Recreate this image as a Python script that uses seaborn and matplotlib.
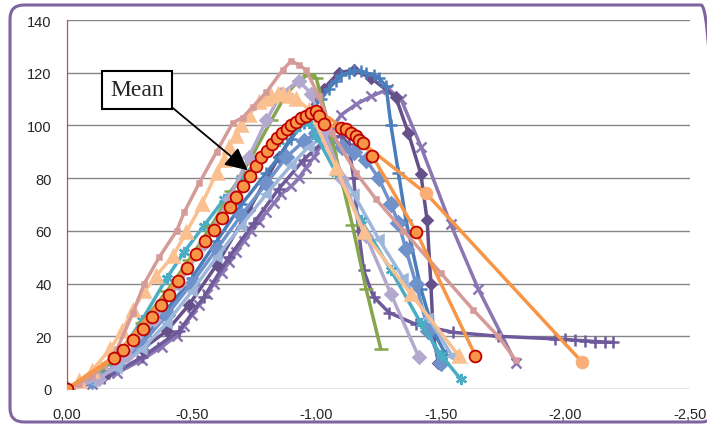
import matplotlib
matplotlib.use("Agg")
import matplotlib.pyplot as plt
import seaborn as sns
from matplotlib.patches import FancyBboxPatch

# displacement (x) vs load (y) curves
pink_x = [0, -0.05, -0.1, -0.15, -0.2, -0.265, -0.31, -0.37, -0.44, -0.47, -0.53, -0.6, -0.665, -0.705,
          -0.745, -0.8, -0.865, -0.9, -0.93, -0.96, -1.01, -1.065, -1.16, -1.24, -1.35, -1.5, -1.63,
          -1.73, -1.8]
pink_y = [0, 2, 5, 9, 15, 29, 40, 50, 60, 67, 78, 90, 101, 103,
          107, 112.6, 121, 124.5, 123, 121, 111, 97, 82, 72, 60, 44, 30,
          20, 11]

peach_x = [0, -0.05, -0.1, -0.172, -0.22, -0.265, -0.31, -0.359, -0.425, -0.479, -0.54, -0.6, -0.63,
           -0.65, -0.68, -0.7, -0.73, -0.772, -0.8, -0.82, -0.845, -0.865, -0.89, -0.92, -0.972,
           -1.08, -1.19, -1.38, -1.572]
peach_y = [0, 3, 7, 15, 22, 30, 37, 43, 50.5, 59.5, 70, 82, 87,
           92, 96, 100, 104, 109, 110, 111, 112, 112, 111, 110, 106,
           84, 59.5, 36, 12.6]

lav_x = [0, -0.13, -0.24, -0.35, -0.45, -0.55, -0.65, -0.73, -0.8, -0.86, -0.93, -0.98, -1.03,
         -1.105, -1.2, -1.3, -1.412]
lav_y = [0, 3.8, 12.6, 26, 40, 55, 72, 88, 102, 112, 117, 112, 98,
         79.7, 58, 36, 12]

green_x = [0, -0.1, -0.2, -0.3, -0.4, -0.49, -0.58, -0.66, -0.74, -0.82, -0.88, -0.93, -0.972,
           -1.0, -1.05, -1.1, -1.145, -1.2, -1.259]
green_y = [0, 4, 12, 25, 37, 49, 62, 75, 88, 102, 112, 117, 119.5,
           118, 100, 80, 62.2, 38, 15.2]

blue_x = [0, -0.1, -0.2, -0.3, -0.4, -0.5, -0.6, -0.7, -0.8, -0.85, -0.9, -0.95, -0.98, -1.02,
          -1.05, -1.08, -1.1, -1.13, -1.15, -1.18, -1.2, -1.23, -1.25, -1.28, -1.3, -1.33, -1.36,
          -1.42, -1.47, -1.52]
blue_y = [0, 3, 9, 18, 30, 42, 56, 70, 82, 88, 95, 101, 106, 110,
          114, 117, 119, 120, 121, 120.5, 120, 119, 118, 115, 100, 82, 64,
          38, 22, 13]

dpurple_x = [0, -0.15, -0.3, -0.4, -0.49, -0.6, -0.73, -0.85, -0.95, -1.03, -1.09, -1.15, -1.22,
             -1.32, -1.37, -1.42, -1.445, -1.46, -1.47, -1.49]
dpurple_y = [0, 5, 15, 22, 32, 47, 68, 88, 103, 114, 120, 121, 118,
             110.6, 97, 81.5, 64, 40, 20, 10]

tail_x = [0, -0.15, -0.3, -0.45, -0.55, -0.65, -0.75, -0.85, -0.95, -1.03, -1.1, -1.13, -1.15,
          -1.17, -1.19, -1.23, -1.292, -1.4, -1.55, -1.73, -1.96, -2.0, -2.04, -2.08, -2.12, -2.16, -2.19]
tail_y = [0, 4, 12, 22, 35, 50, 63, 76, 87, 94, 96, 93, 80,
          60, 45, 35, 29, 24.5, 21.5, 20, 19, 18.8, 18.5, 18.3, 18, 17.8, 17.7]

xpurple_x = [0, -0.1, -0.2, -0.3, -0.38, -0.44, -0.47, -0.5, -0.53, -0.56, -0.59, -0.62, -0.65,
             -0.68, -0.71, -0.74, -0.77, -0.8, -0.83, -0.86, -0.9, -0.93, -0.96, -0.99, -1.05,
             -1.1, -1.16, -1.22, -1.29, -1.34, -1.42, -1.539, -1.65, -1.8]
xpurple_y = [0, 2, 6, 11, 16, 20.2, 24, 28, 32, 36, 40, 44, 48,
             52, 56, 60, 63.5, 67, 70.5, 74, 77, 80, 84, 88, 97,
             104, 108, 111, 113.8, 110, 92, 62.6, 38, 10]

aqua_x = [0, -0.1, -0.2, -0.3, -0.4, -0.47, -0.55, -0.63, -0.7, -0.78, -0.85, -0.92, -0.972,
          -1.0, -1.08, -1.18, -1.3, -1.42, -1.5, -1.579]
aqua_y = [0, 4, 12, 26, 42, 52, 62, 72, 80, 88, 94, 99, 101,
          96, 82, 64, 45, 25, 13, 3.8]

lblue_x = [0, -0.1, -0.2, -0.3, -0.4, -0.5, -0.6, -0.7, -0.8, -0.9, -0.97, -1.02, -1.065,
           -1.15, -1.25, -1.35, -1.45, -1.545]
lblue_y = [0, 3, 8, 15, 25, 37, 50, 62, 74, 85, 92, 95, 88.5,
           74, 57, 42, 27, 12.6]

mblue_x = [0, -0.1, -0.2, -0.3, -0.4, -0.5, -0.6, -0.7, -0.8, -0.88, -0.95, -1.0, -1.05, -1.105,
           -1.15, -1.2, -1.25, -1.3, -1.33, -1.36, -1.4, -1.45, -1.5]
mblue_y = [0, 3, 9, 17, 28, 40, 53, 66, 78, 88, 94, 97, 95, 92,
           90, 87, 80, 70, 63, 53, 40, 22, 10]

orange_x = [0, -0.2, -0.4, -0.6, -0.8, -0.95, -1.05, -1.12, -1.19, -1.441, -2.065]
orange_y = [0, 13, 36, 62, 90, 103, 103, 98, 93, 74.2, 10.4]

mean_x = [0, -0.19, -0.225, -0.265, -0.305, -0.341, -0.377, -0.408, -0.444, -0.48, -0.516, -0.552,
          -0.589, -0.623, -0.652, -0.679, -0.705, -0.735, -0.759, -0.779, -0.803, -0.823, -0.843,
          -0.863, -0.881, -0.899, -0.919, -0.939, -0.959, -0.979, -0.999, -1.012, -1.032, -1.099,
          -1.119, -1.139, -1.159, -1.172, -1.188, -1.225, -1.401, -1.639]
mean_y = [0, 11.8, 14.8, 18.6, 22.8, 27.4, 31.9, 35.8, 40.8, 45.8, 51.2, 56,
          60.3, 64.7, 68.9, 72.7, 76.9, 80.9, 84.7, 87.9, 90.4, 92.9, 95.1,
          97, 98.6, 100.2, 101.4, 102.7, 103.7, 104.7, 105.3, 103.7, 100.5, 99.2,
          98.6, 97.3, 95.8, 94.6, 93.2, 88.5, 59.7, 12.6]

x_ticks = [0, -0.5, -1.0, -1.5, -2.0, -2.5]
x_tick_labels = ['0,00', '-0,50', '-1,00', '-1,50', '-2,00', '-2,50']
y_ticks = [0, 20, 40, 60, 80, 100, 120, 140]

sns.set_style("white")
plt.rcParams['font.family'] = ['Liberation Sans', 'DejaVu Sans']

fig = plt.figure(figsize=(7.07, 4.27), dpi=100)
ax = fig.add_axes([0.0948, 0.0867, 0.8812, 0.8641])

# (x, y, line colour, marker, marker size)
series = [
    (xpurple_x, xpurple_y, '#8A76B2', 'x', 7),
    (tail_x, tail_y, '#6E5A9A', '+', 9),
    (dpurple_x, dpurple_y, '#65508A', 'D', 5.5),
    (blue_x, blue_y, '#4A7EBB', '+', 9),
    (mblue_x, mblue_y, '#6F92CB', 'D', 7),
    (lblue_x, lblue_y, '#9DB6DA', '<', 6),
    (aqua_x, aqua_y, '#4BACC6', (6, 2, 0), 8),
    (green_x, green_y, '#86A64C', '_', 10),
    (lav_x, lav_y, '#B3A9CF', 'D', 6.5),
    (peach_x, peach_y, '#FAC08F', '^', 8),
    (pink_x, pink_y, '#D59B98', 's', 3.5),
]
for xs, ys, col, mk, ms in series:
    sns.lineplot(x=xs, y=ys, ax=ax, sort=False, estimator=None, color=col, lw=2.5,
                 marker=mk, markersize=ms, markerfacecolor=col, markeredgecolor=col,
                 markeredgewidth=1.8)

sns.lineplot(x=orange_x, y=orange_y, ax=ax, sort=False, estimator=None, color='#F79646', lw=2.5,
             marker='o', markersize=9, markerfacecolor='#F9AE78', markeredgecolor='#F9AE78',
             markevery=[9, 10])
sns.lineplot(x=mean_x, y=mean_y, ax=ax, sort=False, estimator=None, color='#F79646', lw=2.5,
             marker='o', markersize=8.5, markerfacecolor='#F79646', markeredgecolor='#C00000',
             markeredgewidth=1.3, zorder=5)

ax.annotate('Mean', xy=(-0.725, 83), xytext=(-0.28, 113.5), family='Liberation Serif',
            fontsize=17, ha='center', va='center', zorder=10,
            bbox=dict(boxstyle='square,pad=0.35', fc='white', ec='black', lw=1.5),
            arrowprops=dict(arrowstyle='-|>,head_length=0.8,head_width=0.4', color='black',
                            lw=1.3, relpos=(1, 0), shrinkA=0, shrinkB=0))

ax.set_xlim(0, -2.5)
ax.set_ylim(0, 140)
ax.set_xticks(x_ticks)
ax.set_xticklabels(x_tick_labels)
ax.set_yticks(y_ticks)
ax.yaxis.grid(True, color='#868686', lw=1)
ax.set_axisbelow(True)
for s in ['top', 'right', 'bottom']:
    ax.spines[s].set_visible(False)
ax.spines['left'].set_color('#C0504D')
ax.spines['left'].set_linewidth(0.9)
ax.tick_params(axis='y', direction='in', length=3, color='#C0504D', pad=11, labelsize=10.5)
ax.tick_params(axis='x', direction='out', length=4, color='#D9534F', pad=9, labelsize=10.5)
ax.set_xlabel('')
ax.set_ylabel('')

# rounded purple frame around the whole chart
frame = FancyBboxPatch((0.10, 0.04), 7.05, 4.17, boxstyle='round,pad=0,rounding_size=0.14',
                       transform=fig.dpi_scale_trans, fc='none', ec='#8064A2', lw=2.2)
fig.patches.append(frame)

plt.savefig('out.png', dpi=100)
